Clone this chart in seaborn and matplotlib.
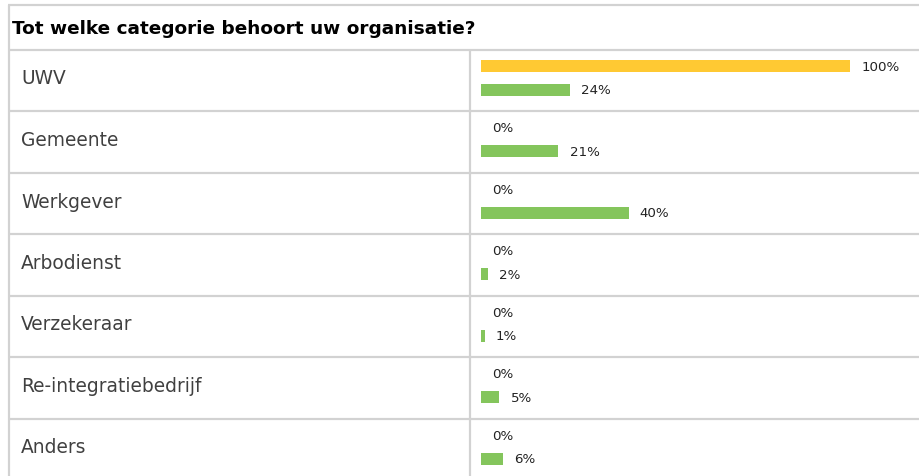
import pandas as pd
import matplotlib.pyplot as plt
import seaborn as sns

# Data
categorieen = ['UWV', 'Gemeente', 'Werkgever', 'Arbodienst', 'Verzekeraar',
               'Re-integratiebedrijf', 'Anders']
uw_organisatie = [100, 0, 0, 0, 0, 0, 0]
alle_respondenten = [24, 21, 40, 2, 1, 5, 6]
groepen = ['Uw organisatie', 'Alle respondenten']
titel = 'Tot welke categorie behoort uw organisatie?'

df = pd.DataFrame({
    'categorie': categorieen * 2,
    'groep': [groepen[0]] * len(categorieen) + [groepen[1]] * len(categorieen),
    'percentage': uw_organisatie + alle_respondenten,
})

# Layout (pixels of a 920x477 figure)
W, H = 920, 477
BAR_ORIGIN_PX = 481      # where 0% lies
PX_PER_PCT = 3.69        # 100% = 369 px
ROW_PX = 61.5            # height of one table row
FIRST_ROW_MID_PX = 79    # middle of the first pair of bars

def xd(px):
    return (px - BAR_ORIGIN_PX) / PX_PER_PCT

def yd(px):
    return (px - FIRST_ROW_MID_PX) / ROW_PX

geel = '#FFC933'
groen = '#84C55C'
lijn = '#D2D2D2'

sns.set_theme(style='white')
plt.rcParams['font.family'] = ['DejaVu Sans']

fig = plt.figure(figsize=(W / 100, H / 100), dpi=100)
ax = fig.add_axes([0, 0, 1, 1])

sns.barplot(data=df, y='categorie', x='percentage', hue='groep', orient='h',
            palette=[geel, groen], width=0.78, gap=0.5, legend=False,
            saturation=1, linewidth=0, ax=ax)

ax.set_xlim(xd(0), xd(W))
ax.set_ylim(yd(H), yd(0))
ax.axis('off')

# value labels
for cont in ax.containers:
    ax.bar_label(cont, labels=[f'{v:g}%' for v in cont.datavalues],
                 padding=8, fontsize=9.6, color='#222222')

# table grid
n = len(categorieen)
row_lines = [k + yd(50.5) for k in range(n + 1)]
ax.hlines([yd(5.5)] + row_lines, xd(8), xd(W), colors=lijn, linewidth=1.6)
ax.vlines(xd(9), yd(5.5), yd(H), colors=lijn, linewidth=1.6)
ax.vlines(xd(470), yd(50.5), yd(H), colors=lijn, linewidth=1.6)

# title row and category labels
ax.text(xd(12), yd(28.5), titel, fontsize=13.3, fontweight='bold',
        color='black', va='center', ha='left')
for k, cat in enumerate(categorieen):
    ax.text(xd(21), k, cat, fontsize=13.4, color='#404040',
            va='center', ha='left')

fig.savefig('out.png', dpi=100, facecolor='white')
